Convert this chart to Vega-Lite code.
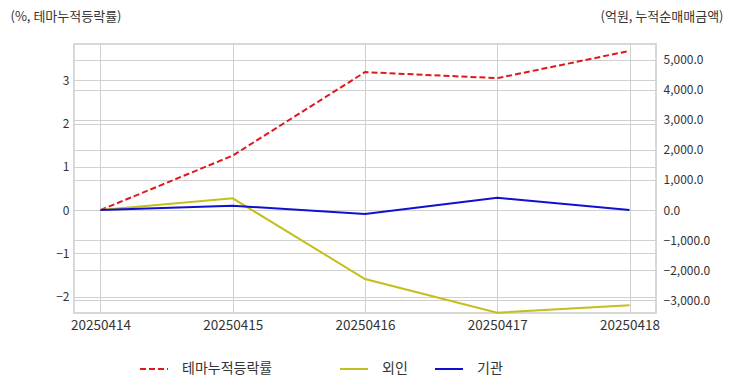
{
  "$schema": "https://vega.github.io/schema/vega-lite/v6.json",
  "width": 582,
  "height": 269,
  "autosize": "none",
  "padding": {"left": 74, "top": 44, "right": 76, "bottom": 79},
  "background": "white",
  "config": {
    "font": "Noto Sans CJK KR",
    "view": {"stroke": "#cccccc", "strokeWidth": 1.5},
    "axis": {
      "gridColor": "#d0d0d0",
      "gridWidth": 1,
      "domain": false,
      "ticks": false,
      "labelColor": "#333333",
      "labelFontSize": 12,
      "titleColor": "#333333",
      "titleFontSize": 13,
      "titleFontWeight": "normal"
    },
    "legend": {
      "labelColor": "#333333",
      "labelFontSize": 14,
      "symbolType": "stroke",
      "symbolSize": 784,
      "symbolStrokeWidth": 2,
      "labelOffset": 13,
      "direction": "horizontal",
      "orient": "none",
      "title": null
    }
  },
  "data": {
    "values": [
      {"date": "20250414", "series": "테마누적등락률", "value": 0.0},
      {"date": "20250415", "series": "테마누적등락률", "value": 1.26},
      {"date": "20250416", "series": "테마누적등락률", "value": 3.19},
      {"date": "20250417", "series": "테마누적등락률", "value": 3.05},
      {"date": "20250418", "series": "테마누적등락률", "value": 3.68},
      {"date": "20250414", "series": "외인", "value": 0},
      {"date": "20250415", "series": "외인", "value": 390},
      {"date": "20250416", "series": "외인", "value": -2290},
      {"date": "20250417", "series": "외인", "value": -3410},
      {"date": "20250418", "series": "외인", "value": -3166},
      {"date": "20250414", "series": "기관", "value": 0},
      {"date": "20250415", "series": "기관", "value": 143},
      {"date": "20250416", "series": "기관", "value": -133},
      {"date": "20250417", "series": "기관", "value": 409},
      {"date": "20250418", "series": "기관", "value": 0}
    ]
  },
  "encoding": {
    "x": {
      "field": "date",
      "type": "ordinal",
      "scale": {"type": "point", "padding": 0.2},
      "axis": {"title": null, "labelAngle": 0, "grid": true, "labelPadding": 5, "labelFontSize": 13.5}
    }
  },
  "layer": [
    {
      "transform": [{"filter": "datum.series === '테마누적등락률'"}],
      "mark": {"type": "line", "strokeDash": [6, 3], "strokeWidth": 2},
      "encoding": {
        "y": {
          "field": "value",
          "type": "quantitative",
          "scale": {"domain": [-2.38, 3.84], "nice": false, "zero": false},
          "axis": {
            "orient": "left",
            "values": [-2, -1, 0, 1, 2, 3],
            "grid": true,
            "labelPadding": 5,
            "title": "(%, 테마누적등락률)",
            "titleAngle": 0,
            "titleAlign": "left",
            "titleBaseline": "middle",
            "titleX": -64,
            "titleY": -28
          }
        },
        "color": {
          "field": "series",
          "type": "nominal",
          "scale": {"domain": ["테마누적등락률"], "range": ["#e0181b"]},
          "legend": {"legendX": 65, "legendY": 310, "symbolDash": [6, 3]}
        }
      }
    },
    {
      "transform": [{"filter": "datum.series !== '테마누적등락률'"}],
      "mark": {"type": "line", "strokeWidth": 2},
      "encoding": {
        "y": {
          "field": "value",
          "type": "quantitative",
          "scale": {"domain": [-3420, 5515], "nice": false, "zero": false},
          "axis": {
            "orient": "right",
            "values": [-3000, -2000, -1000, 0, 1000, 2000, 3000, 4000, 5000],
            "format": ",.1f",
            "grid": true,
            "labelPadding": 7,
            "title": "(억원, 누적순매매금액)",
            "titleAngle": 0,
            "titleAlign": "right",
            "titleBaseline": "middle",
            "titleX": 67,
            "titleY": -28
          }
        },
        "color": {
          "field": "series",
          "type": "nominal",
          "scale": {"domain": ["외인", "기관"], "range": ["#c4bf1c", "#1010d0"]},
          "legend": {"legendX": 265, "legendY": 310, "columnPadding": 23}
        }
      }
    }
  ],
  "resolve": {"scale": {"y": "independent", "color": "independent"}}
}
